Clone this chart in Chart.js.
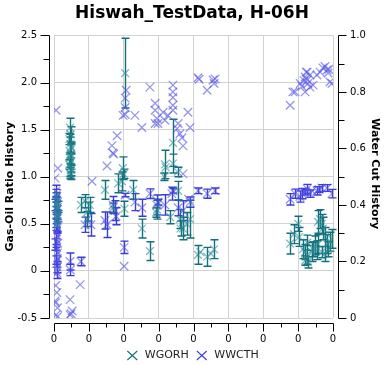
<!DOCTYPE html>
<html><head><meta charset="utf-8">
<script src="https://cdn.jsdelivr.net/npm/chart.js@4.4.1/dist/chart.umd.min.js"></script>
<style>html,body{margin:0;padding:0;background:#fff;overflow:hidden;width:384px;height:365px}canvas{display:block}</style>
</head><body>
<canvas id="c" width="384" height="371" style="width:384px;height:371px"></canvas>
<script>
// ---------- DATA ----------
const chartTitle = 'Hiswah_TestData, H-06H';
const leftAxisTitle = 'Gas-Oil Ratio History';
const rightAxisTitle = 'Water Cut History';
const seriesNames = ['WGORH', 'WWCTH'];
const xTickLabels = ['0','0','0','0','0','0','0','0','0'];

// WGORH (left axis): x position, value, error half-width (0 = none)
const gorX = [0.05,0.08,0.06,0.10,0.05,0.09,0.07,0.04,0.11,0.06,0.10,0.08,
  0.46,0.48,0.44,0.47,0.50,0.45,0.48,0.46,0.50,0.44,0.47,0.49,0.46,0.48,0.45,0.49,
  0.77,0.89,0.97,1.03,0.95,1.46,1.69,1.84,1.95,1.97,2.04,2.02,2.00,2.27,2.52,2.75,2.95,2.93,
  3.18,3.16,3.20,3.33,3.41,3.41,3.56,3.55,3.61,3.63,3.70,3.81,3.90,
  4.13,4.39,4.59,4.20,4.50,
  6.77,6.88,7.00,7.03,7.14,7.20,7.26,7.20,7.28,7.26,7.40,7.43,7.48,7.54,7.57,7.57,7.63,7.68,7.71,7.77,7.83,7.86,7.91,7.97,7.68,7.77];
const gorY = [0.78,0.74,0.70,0.66,0.62,0.58,0.55,0.72,0.68,0.51,0.60,0.48,
  1.52,1.45,1.40,1.35,1.30,1.27,1.24,1.20,1.16,1.13,1.10,1.07,1.04,1.01,1.22,1.32,
  0.70,0.74,0.63,0.70,0.55,0.86,0.67,0.93,0.95,1.09,2.10,0.66,1.03,0.86,0.45,0.21,0.65,0.62,
  1.13,1.00,1.10,0.57,1.36,1.14,0.85,1.05,0.55,0.45,0.45,0.50,0.55,
  0.17,0.15,0.23,0.20,0.18,
  0.29,0.39,0.50,0.36,0.23,0.20,0.17,0.11,0.09,0.30,0.20,0.23,0.27,0.22,0.285,0.52,0.55,0.50,0.45,0.36,0.285,0.23,0.31,0.34,0.20,0.18];
const gorErr = [0.05,0,0.08,0,0.06,0,0.05,0,0.06,0,0.05,0,
  0.10,0.08,0.06,0.10,0.05,0.07,0.12,0.06,0.08,0.05,0.10,0.06,0.06,0.04,0,0,
  0.08,0.07,0.10,0.08,0.08,0.10,0.05,0.10,0.10,0.12,0.37,0.08,0.05,0.10,0.10,0.10,0.10,0.05,
  0.15,0.04,0,0.07,0.25,0.10,0.10,0.05,0.10,0.08,0.12,0.12,0.20,
  0.10,0.10,0.10,0,0,
  0.11,0.10,0.08,0.10,0.10,0.08,0.10,0.05,0.06,0.08,0.10,0.08,0.10,0.10,0.10,0.12,0.10,0.10,0.12,0.10,0.10,0.08,0.10,0.10,0.06,0.08];

// WWCTH (right axis)
const wcX = [0.05,0.08,0.06,0.10,0.04,0.09,0.07,0.05,0.11,0.06,0.08,0.04,0.10,0.07,0.05,0.09,0.06,0.11,0.04,0.08,0.06,0.10,0.05,0.08,0.07,0.04,0.09,0.06,0.08,0.05,0.07,0.09,0.05,0.10,
  0.06,0.11,0.03,0.05,0.08,0.04,0.10,0.06,0.10,0.03,
  0.46,0.52,0.46,0.49,0.46,0.47,
  0.75,0.77,
  0.89,1.06,1.09,
  1.46,
  1.52,1.52,
  1.66,1.69,1.71,1.81,1.69,1.75,1.78,
  1.98,2.04,2.04,2.07,2.04,2.01,2.01,2.04,
  2.32,2.32,
  2.52,2.52,
  2.75,2.75,
  2.90,2.90,2.95,2.98,2.90,2.95,2.98,
  3.13,3.18,3.27,3.18,
  3.41,3.41,3.41,3.41,3.41,3.38,3.41,
  3.56,3.53,3.61,3.67,3.70,3.56,3.70,3.70,
  3.84,3.90,3.90,3.86,
  4.13,4.39,4.56,4.62,4.13,4.39,4.62,4.16,4.59,
  6.77,6.91,7.11,7.26,7.34,7.54,7.68,7.83,7.97,7.40,7.60,7.05,7.20,
  6.77,6.85,6.91,7.06,7.11,7.20,7.23,7.26,7.28,7.34,7.43,7.54,7.63,7.71,7.77,7.83,7.86,7.91,7.97,7.20,7.26,7.17,7.34,7.88];
const wcY = [0.45,0.43,0.425,0.41,0.40,0.385,0.38,0.365,0.36,0.35,0.335,0.33,0.32,0.305,0.30,0.29,0.28,0.265,0.26,0.25,0.24,0.23,0.22,0.205,0.20,0.19,0.18,0.17,0.16,0.155,0.35,0.44,0.28,0.21,
  0.735,0.53,0.495,0.115,0.09,0.054,0.036,0.011,0.005,0.06,
  0.065,0.025,0.011,0.015,0.20,0.17,
  0.118,0.20,
  0.33,0.33,0.484,
  0.345,
  0.538,0.33,
  0.61,0.584,0.58,0.645,0.40,0.38,0.36,
  0.717,0.745,0.778,0.806,0.435,0.25,0.183,0.72,
  0.717,0.41,
  0.674,0.39,
  0.817,0.44,
  0.76,0.735,0.706,0.688,0.688,0.40,0.41,
  0.728,0.70,0.717,0.40,
  0.824,0.80,0.78,0.753,0.735,0.44,0.45,
  0.688,0.67,0.652,0.638,0.609,0.39,0.38,0.51,
  0.728,0.674,0.41,0.42,
  0.85,0.806,0.842,0.846,0.45,0.44,0.45,0.845,0.83,
  0.42,0.44,0.44,0.457,0.44,0.45,0.46,0.46,0.44,0.45,0.455,0.43,0.445,
  0.753,0.80,0.80,0.83,0.82,0.853,0.87,0.842,0.83,0.817,0.824,0.86,0.87,0.885,0.89,0.878,0.867,0.835,0.83,0.80,0.87,0.84,0.86,0.88];
const wcErr = [0.02,0,0.03,0,0.02,0,0.03,0,0.02,0,0.03,0,0.02,0,0.02,0,0.03,0,0.02,0,0.02,0,0.03,0,0.02,0,0.02,0,0.02,0,0,0,0,0,
  0,0,0,0,0,0,0,0,0,0,
  0,0,0,0,0.03,0.02,
  0,0.015,
  0.027,0.04,0,
  0.03,
  0,0.045,
  0,0,0,0,0.03,0.035,0.03,
  0,0,0,0,0.006,0.022,0,0,
  0,0.03,
  0,0.03,
  0,0.017,
  0,0,0,0,0,0.035,0.01,
  0,0,0,0.036,
  0,0,0,0,0,0.023,0.008,
  0,0,0,0,0,0.028,0.035,0,
  0,0,0.018,0,
  0,0,0,0,0.01,0.016,0.01,0,0,
  0.02,0.016,0.018,0.016,0.013,0.015,0.012,0.012,0.015,0,0.01,0.02,0.01,
  0,0,0,0,0,0,0,0,0,0,0,0,0,0,0,0,0,0,0,0,0,0,0,0];

// ---------- STYLE ----------
const FONT = '"DejaVu Sans", Verdana, sans-serif';
const TEAL_PT = 'rgba(45,140,150,0.6)';
const TEAL_BAR = '#11707a';
const BLUE_PT = 'rgba(80,80,228,0.6)';
const BLUE_BAR = '#3b3bd8';
const GRID = '#d2d2d2';

const errorBars = {
  id: 'errorBars',
  beforeDatasetsDraw(chart) {
    const ctx = chart.ctx, xs = chart.scales.x;
    const sets = [
      {x: wcX, y: wcY, e: wcErr, axis: 'y1', color: BLUE_BAR},
      {x: gorX, y: gorY, e: gorErr, axis: 'y', color: TEAL_BAR}
    ];
    ctx.save();
    ctx.lineWidth = 1.4;
    sets.forEach(s => {
      const ys = chart.scales[s.axis];
      ctx.strokeStyle = s.color;
      ctx.beginPath();
      s.x.forEach((xv, i) => {
        if (!s.e[i]) return;
        const px = Math.round(xs.getPixelForValue(xv)) + 0.5;
        const p1 = ys.getPixelForValue(s.y[i] - s.e[i]);
        const p2 = ys.getPixelForValue(s.y[i] + s.e[i]);
        ctx.moveTo(px, p1); ctx.lineTo(px, p2);
        ctx.moveTo(px - 4, p1); ctx.lineTo(px + 4, p1);
        ctx.moveTo(px - 4, p2); ctx.lineTo(px + 4, p2);
      });
      ctx.stroke();
    });
    ctx.restore();
  }
};

const axesPlugin = {
  id: 'axesPlugin',
  afterDraw(chart) {
    const {ctx, chartArea: a} = chart;
    const x = chart.scales.x, y = chart.scales.y, y1 = chart.scales.y1;
    const L = Math.round(a.left) - 4.5, R = Math.round(a.right) + 5.5, B = Math.round(a.bottom) + 5.5;
    ctx.save();
    ctx.strokeStyle = '#000';
    ctx.lineWidth = 1;
    ctx.beginPath();
    ctx.moveTo(L, Math.round(a.top) + 0.5); ctx.lineTo(L, Math.round(a.bottom) + 0.5);
    ctx.moveTo(R, Math.round(a.top) + 0.5); ctx.lineTo(R, Math.round(a.bottom) + 0.5);
    ctx.moveTo(Math.round(a.left) + 0.5, B); ctx.lineTo(Math.round(a.right) + 0.5, B);
    for (let k = 0; k <= 12; k++) {
      const p = Math.round(y.getPixelForValue(y.min + k * 0.25)) + 0.5;
      ctx.moveTo(L, p); ctx.lineTo(L - (k % 2 ? 6 : 9), p);
    }
    for (let k = 0; k <= 10; k++) {
      const p = Math.round(y1.getPixelForValue(k * 0.1)) + 0.5;
      ctx.moveTo(R, p); ctx.lineTo(R + (k % 2 ? 6 : 8), p);
    }
    for (let k = 0; k <= 16; k++) {
      const p = Math.round(x.getPixelForValue(k * 0.5)) + 0.5;
      ctx.moveTo(p, B); ctx.lineTo(p, B + (k % 2 ? 4 : 8));
    }
    ctx.stroke();
    ctx.fillStyle = '#000';
    ctx.font = 'bold 11px ' + FONT;
    ctx.textAlign = 'center';
    ctx.textBaseline = 'middle';
    const midY = (a.top + a.bottom) / 2;
    ctx.save(); ctx.translate(10, midY + 10); ctx.rotate(-Math.PI / 2); ctx.fillText(leftAxisTitle, 0, 0); ctx.restore();
    ctx.save(); ctx.translate(375, midY - 3); ctx.rotate(Math.PI / 2); ctx.fillText(rightAxisTitle, 0, 0); ctx.restore();
    ctx.restore();
  }
};

const tickFont = {family: FONT, size: 10};

new Chart(document.getElementById('c'), {
  type: 'scatter',
  data: {
    datasets: [
      {label: seriesNames[0], data: gorX.map((v, i) => ({x: v, y: gorY[i]})), yAxisID: 'y',
       pointStyle: 'crossRot', pointRadius: 5.5, borderWidth: 1.3, borderColor: TEAL_PT, backgroundColor: TEAL_PT},
      {label: seriesNames[1], data: wcX.map((v, i) => ({x: v, y: wcY[i]})), yAxisID: 'y1',
       pointStyle: 'crossRot', pointRadius: 6, borderWidth: 1.3, borderColor: BLUE_PT, backgroundColor: BLUE_PT}
    ]
  },
  options: {
    responsive: false, animation: false, devicePixelRatio: 1,
    layout: {padding: 0},
    plugins: {
      tooltip: {enabled: false},
      title: {display: true, text: chartTitle, color: '#000',
        font: {family: FONT, size: 17, weight: 'bold'}, padding: {top: 3, bottom: 12}},
      legend: {position: 'bottom',
        labels: {color: '#222', font: {family: FONT, size: 11}, usePointStyle: true,
          pointStyleWidth: 14, boxHeight: 9, padding: 6,
          generateLabels(chart) {
            const items = Chart.defaults.plugins.legend.labels.generateLabels(chart);
            items[0].strokeStyle = TEAL_BAR; items[0].fillStyle = TEAL_BAR;
            items[1].strokeStyle = BLUE_BAR; items[1].fillStyle = BLUE_BAR;
            items.forEach(it => { it.lineWidth = 1.1; });
            return items;
          }}}
    },
    scales: {
      x: {type: 'linear', min: 0, max: 8,
        ticks: {stepSize: 1, autoSkip: false, maxRotation: 0, padding: 15, color: '#000', font: tickFont,
          callback: (v, i) => xTickLabels[i]},
        grid: {color: GRID, drawTicks: false}, border: {display: false},
        afterFit: s => { s.height = 26; }},
      y: {position: 'left', min: -0.5, max: 2.5,
        ticks: {stepSize: 0.5, padding: 17, color: '#000', font: tickFont},
        grid: {color: GRID, drawTicks: false}, border: {display: false},
        afterFit: s => { s.width = 54; }},
      y1: {position: 'right', min: 0, max: 1,
        ticks: {stepSize: 0.2, padding: 17, color: '#000', font: tickFont},
        grid: {display: false, drawTicks: false}, border: {display: false},
        afterFit: s => { s.width = 51; }}
    }
  },
  plugins: [errorBars, axesPlugin]
});
</script>
</body></html>
